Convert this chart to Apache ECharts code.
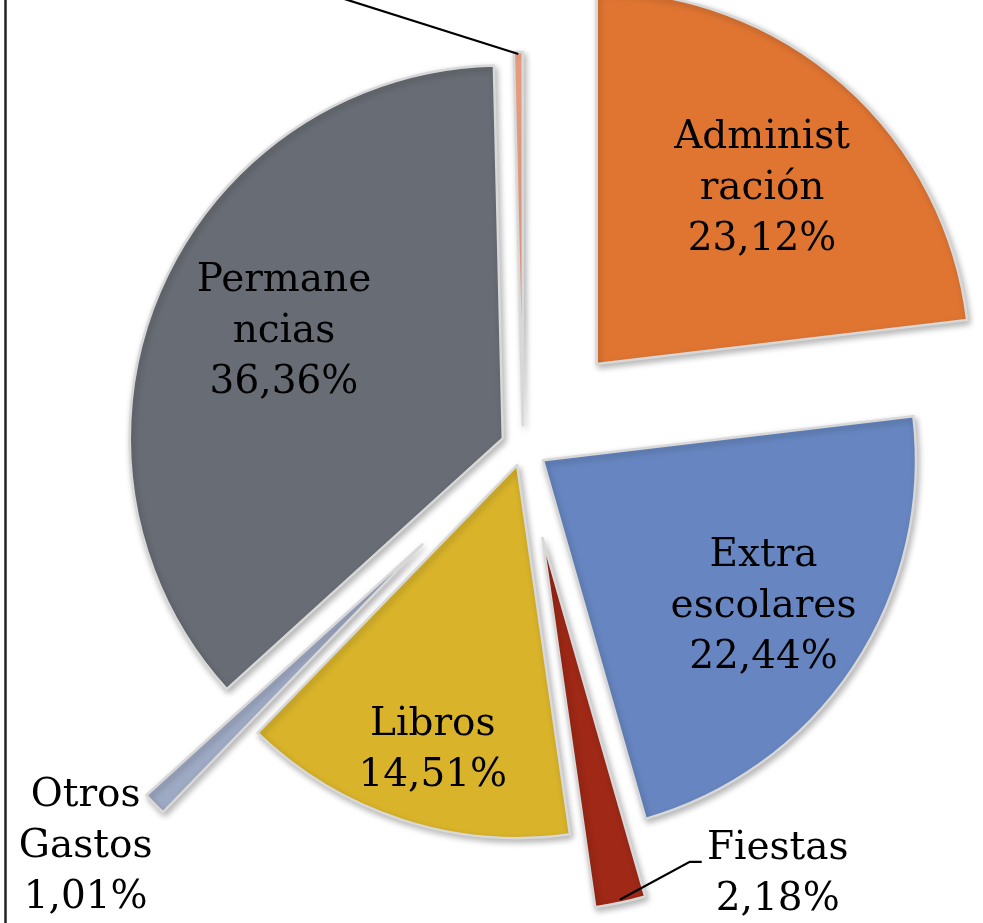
<!DOCTYPE html>
<html>
<head>
<meta charset="utf-8">
<title>Distribución de gastos</title>
<script src="https://cdn.jsdelivr.net/npm/echarts@6/dist/echarts.min.js"></script>
<style>
  html, body { margin: 0; padding: 0; background: #fff; }
  #chart { width: 983px; height: 923px; }
</style>
</head>
<body>
<div id="chart"></div>
<script>
// datos (porcentajes)
const categories = ['Administración', 'Extraescolares', 'Fiestas', 'Libros', 'Otros Gastos', 'Permanencias', 'Varios'];
const labelText = ['Administ\nración', 'Extra\nescolares', 'Fiestas', 'Libros', 'Otros\nGastos', 'Permane\nncias', 'Varios'];
const values = [23.12, 22.44, 2.18, 14.51, 1.01, 36.36, 0.38];

const colors = ['#e07532', '#6786c1', '#9f2816', '#d9b42a', '#9ea9c4', '#686c74', '#f9a98a'];

// geometria del pastel
const CX = 523, CY = 447, R = 373;
const explode = [111, 24, 93, 19, 140, 22, 22];          // separacion de cada porcion (px)
const insideLabel = { 0: [0.645, 1.8], 1: [0.71, 0], 3: [0.797, -1.5], 5: [0.652, 2.7] };  // [fraccion radio, ajuste grados]

const total = values.reduce((a, b) => a + b, 0);

function midAngle(i) {
  let before = 0;
  for (let k = 0; k < i; k++) before += values[k];
  return (before + values[i] / 2) / total * Math.PI * 2;
}
function polar(c, dist, ang) {
  return [c[0] + dist * Math.sin(ang), c[1] - dist * Math.cos(ang)];
}
function sliceCenter(i) {
  return polar([CX, CY], explode[i], midAngle(i));
}
function fmt(v) {
  return v.toFixed(2).replace('.', ',') + '%';
}

// lineas guia (Fiestas y porcion diminuta)
const fEdge = polar(sliceCenter(2), R - 3, midAngle(2));
const fElbow = [fEdge[0] + 70, fEdge[1] - 38];
const fEnd = [fElbow[0] + 12, fElbow[1]];
const tEdge = polar(sliceCenter(6), R - 2, midAngle(6));
const tEnd = [tEdge[0] - 316, tEdge[1] - 100];

function layoutLabel(i, c, p) {
  if (p.dataIndex !== i) return {};
  const a = midAngle(i);
  if (insideLabel[i]) {
    const pos = polar(c, insideLabel[i][0] * R, a + insideLabel[i][1] * Math.PI / 180);
    return { x: pos[0], y: pos[1], align: 'center', verticalAlign: 'middle' };
  }
  if (i === 2) {
    return { x: fEnd[0] + 76, y: fElbow[1] + 13, align: 'center', verticalAlign: 'middle' };
  }
  if (i === 4) {
    const edge = polar(c, R - 3, a);
    return { x: edge[0] - 71, y: edge[1] + 45, align: 'center', verticalAlign: 'middle' };
  }
  // porcion diminuta: etiqueta fuera del area visible
  return { x: tEnd[0], y: tEnd[1] - 60, align: 'center', verticalAlign: 'middle' };
}

const series = values.map(function (v, i) {
  const c = sliceCenter(i);
  return {
    type: 'pie',
    center: c,
    radius: R,
    startAngle: 90,
    clockwise: true,
    silent: true,
    animation: false,
    avoidLabelOverlap: false,
    z: 2,
    itemStyle: {
      borderColor: '#d8d8d8',
      borderWidth: 2.5,
      shadowBlur: 6,
      shadowOffsetX: 2,
      shadowOffsetY: 3,
      shadowColor: 'rgba(0,0,0,0.28)'
    },
    label: {
      position: insideLabel[i] ? 'inside' : 'outside',
      formatter: function (p) { return labelText[p.dataIndex] + '\n' + fmt(p.value); },
      fontFamily: 'DejaVu Serif',
      fontSize: 39,
      lineHeight: 51,
      color: '#000'
    },
    labelLine: { show: false },
    labelLayout: function (p) { return layoutLabel(i, c, p); },
    data: values.map(function (val, k) {
      const visible = k === i;
      return {
        name: categories[k],
        value: val,
        itemStyle: visible
          ? { color: colors[k] }
          : { opacity: 0, borderWidth: 0, shadowBlur: 0, shadowColor: 'transparent' },
        label: { show: visible }
      };
    })
  };
});

const myChart = echarts.init(document.getElementById('chart'));
myChart.setOption({
  backgroundColor: '#fff',
  animation: false,
  graphic: [
    {
      type: 'line',
      shape: { x1: 5.5, y1: 0, x2: 5.5, y2: 923 },
      style: { stroke: '#222', lineWidth: 2.5 },
      z: 10
    },
    {
      type: 'polyline',
      shape: { points: [fEdge, fElbow, fEnd] },
      style: { stroke: '#000', lineWidth: 2.2, fill: null },
      z: 10
    },
    {
      type: 'polyline',
      shape: { points: [tEdge, tEnd] },
      style: { stroke: '#000', lineWidth: 2.2, fill: null },
      z: 10
    }
  ],
  series: series
});
</script>
</body>
</html>
